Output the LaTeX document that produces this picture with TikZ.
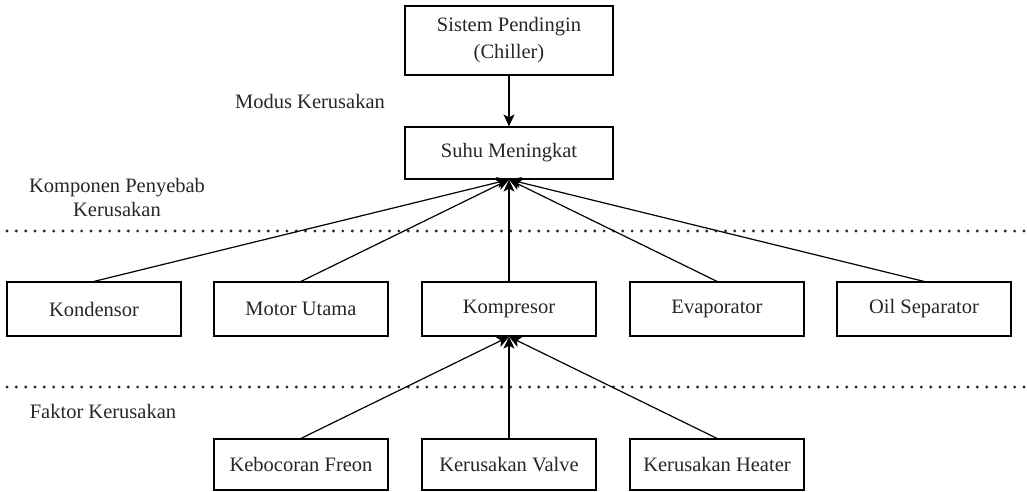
\documentclass[tikz,border=0pt]{standalone}
\usepackage{fontspec}
\setmainfont{Liberation Serif}
\usetikzlibrary{arrows.meta}
\tikzset{
  box/.style={draw, line width=1.2pt, inner sep=0pt, align=center, text=black!85,
    font=\fontsize{20.5}{27}\selectfont},
  lbl/.style={inner sep=0pt, align=center, text=black!85, font=\fontsize{20.5}{24}\selectfont},
  conn/.style={line width=1.2pt, -{Stealth[length=12pt,width=11pt,inset=3pt]}},
  dotline/.style={line width=3.2pt, line cap=round, dash pattern=on 0pt off 9.33pt, black!85}
}
\begin{document}
\begin{tikzpicture}[x=1pt,y=-1pt]
\useasboundingbox (0,0) rectangle (1027,491);
% separators
\draw[dotline] (7,231) -- (1027,231);
\draw[dotline] (7,387) -- (1027,387);
% labels
\node[lbl] (modus) at (310,101) {Modus Kerusakan};
\node[lbl] (komp) at (117,197) {Komponen Penyebab\\Kerusakan};
\node[lbl] (faktor) at (103,411) {Faktor Kerusakan};
% top boxes
\node[box, minimum width=208pt, minimum height=69pt] (chiller) at (509,40.5) {Sistem Pendingin\\(Chiller)};
\node[box, minimum width=208pt, minimum height=52pt] (suhu) at (509,153) {Suhu Meningkat};
% component row
\foreach \n/\x/\t in {kond/94/Kondensor, motor/301/Motor Utama, kompr/509/Kompresor, evap/717/Evaporator, oil/924/Oil Separator}
  \node[box, minimum width=174pt, minimum height=54pt] (\n) at (\x,309) {\t};
% factor row
\foreach \n/\x/\t in {freon/301/Kebocoran Freon, valve/509/Kerusakan Valve, heater/717/Kerusakan Heater}
  \node[box, minimum width=174pt, minimum height=51pt] (\n) at (\x,464.5) {\t};
% connectors
\draw[conn] (chiller.south) -- (suhu.north);
\foreach \n in {kond, motor, kompr, evap, oil}
  \draw[conn] (\n.north) -- (suhu.south);
\foreach \n in {freon, valve, heater}
  \draw[conn] (\n.north) -- (kompr.south);
\end{tikzpicture}
\end{document}
